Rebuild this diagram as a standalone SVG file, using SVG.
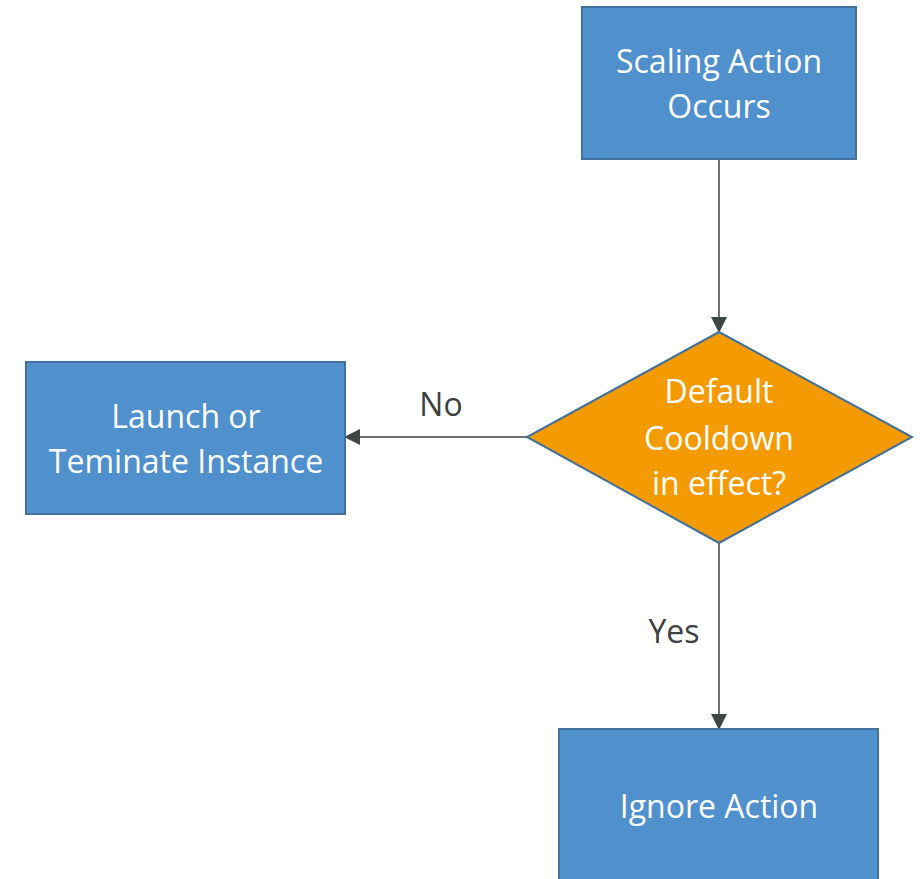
<svg xmlns="http://www.w3.org/2000/svg" width="923" height="879" viewBox="0 0 923 879">
<style>
.box{fill:#4f90cd;stroke:#41719c;stroke-width:2}
.dia{fill:#f49a02;stroke:#41719c;stroke-width:2}
.t{font-family:"Open Sans","Noto Sans",sans-serif;font-size:32px;fill:#ffffff;text-anchor:middle}
.lbl{font-family:"Open Sans","Noto Sans",sans-serif;font-size:32px;fill:#404040;text-anchor:middle}
.edge{stroke:#707070;stroke-width:2;fill:none}
</style>
<defs>
<marker id="arr" markerUnits="userSpaceOnUse" markerWidth="16" markerHeight="16" viewBox="0 0 16 16" refX="15" refY="8" orient="auto">
<path d="M0,0 L16,8 L0,16 Z" fill="#404545"/>
</marker>
</defs>
<g id="connectors">
<line class="edge" x1="719" y1="159" x2="719" y2="332" marker-end="url(#arr)"/>
<line class="edge" x1="527" y1="437" x2="345" y2="437" marker-end="url(#arr)"/>
<line class="edge" x1="719" y1="543" x2="719" y2="729" marker-end="url(#arr)"/>
<text class="lbl" x="441" y="416">No</text>
<text class="lbl" x="674" y="643">Yes</text>
</g>
<g id="scaling">
<rect class="box" x="582" y="7" width="274" height="152"/>
<text class="t" x="719" y="73">Scaling Action</text>
<text class="t" x="719" y="118">Occurs</text>
</g>
<g id="decision">
<polygon class="dia" points="719,332 912,437 719,543 527,437"/>
<text class="t" x="719" y="403">Default</text>
<text class="t" x="719" y="450">Cooldown</text>
<text class="t" x="719" y="495">in effect?</text>
</g>
<g id="launch">
<rect class="box" x="26" y="362" width="319" height="152"/>
<text class="t" x="186" y="428">Launch or</text>
<text class="t" x="186" y="473">Teminate Instance</text>
</g>
<g id="ignore">
<rect class="box" x="559" y="729" width="319" height="160"/>
<text class="t" x="719" y="818">Ignore Action</text>
</g>
</svg>
